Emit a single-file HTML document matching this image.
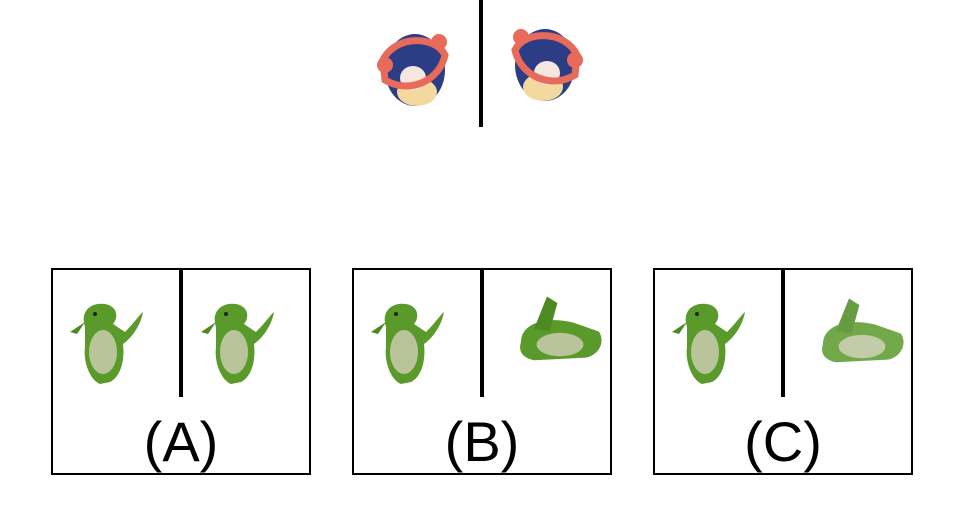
<!DOCTYPE html>
<html><head><meta charset="utf-8"><style>
html,body{margin:0;padding:0;background:#fff;}
svg{display:block;}
text{font-family:"Liberation Sans",sans-serif;}
</style></head><body>
<svg width="963" height="526" viewBox="0 0 963 526">
<defs>
<g id="dino">
 <path d="M-20,-15 C-25,-30 -15,-40 0,-38 C12,-36 14,-25 8,-18 L20,-10 C30,-20 35,-28 38,-30 C36,-18 28,-5 18,2 C20,20 15,35 5,40 L-5,42 C-15,38 -22,20 -20,5 Z" fill="#5a9a2a"/>
 <ellipse cx="-2" cy="10" rx="14" ry="22" fill="#b9c49a"/>
 <path d="M-20,-20 L-35,-10 L-28,-8 Z" fill="#4d8a22"/>
 <circle cx="-10" cy="-28" r="2" fill="#222"/>
</g>
<g id="dinoflat">
 <path d="M-30,0 C-30,-15 -10,-20 10,-15 L30,-8 C35,0 30,10 20,12 L-20,14 C-30,12 -32,6 -30,0 Z" fill="#5a9a2a"/>
 <path d="M-20,-10 L-10,-35 L-2,-30 L-8,-8 Z" fill="#4d8a22"/>
 <ellipse cx="0" cy="2" rx="18" ry="9" fill="#b9c49a"/>
</g>
<g id="penguin">
 <ellipse cx="0" cy="0" rx="30" ry="36" fill="#2c3d85"/>
 <ellipse cx="2" cy="22" rx="20" ry="14" fill="#f3d9a0"/>
 <ellipse cx="-2" cy="8" rx="13" ry="12" fill="#f5e6e0"/>
 <path d="M-32,-10 C-20,-35 20,-35 30,-15 C25,10 -5,25 -30,10 Z" fill="none" stroke="#e86a5a" stroke-width="7"/>
 <circle cx="-30" cy="-5" r="8" fill="#e86a5a"/>
 <circle cx="24" cy="-28" r="8" fill="#e86a5a"/>
</g>
</defs>
<line x1="481" y1="0" x2="481" y2="127" stroke="#000" stroke-width="4"/>
<use href="#penguin" x="415" y="70"/>
<use href="#penguin" x="545" y="65" transform="translate(1090,0) scale(-1,1)"/>

<g>
 <rect x="52" y="269" width="258" height="205" fill="none" stroke="#000" stroke-width="2"/>
 <line x1="181" y1="269" x2="181" y2="397" stroke="#000" stroke-width="4"/>
 <use href="#dino" x="105" y="342"/>
 <use href="#dino" x="236" y="342"/>
 <text x="181" y="461" font-size="56" text-anchor="middle">(A)</text>
</g>
<g>
 <rect x="353" y="269" width="258" height="205" fill="none" stroke="#000" stroke-width="2"/>
 <line x1="482" y1="269" x2="482" y2="397" stroke="#000" stroke-width="4"/>
 <use href="#dino" x="406" y="342"/>
 <use href="#dinoflat" transform="translate(560,342) scale(1.3)"/>
 <text x="482" y="461" font-size="56" text-anchor="middle">(B)</text>
</g>
<g>
 <rect x="654" y="269" width="258" height="205" fill="none" stroke="#000" stroke-width="2"/>
 <line x1="783" y1="269" x2="783" y2="397" stroke="#000" stroke-width="4"/>
 <use href="#dino" x="707" y="342"/>
 <use href="#dinoflat" transform="translate(862,344) scale(1.3)" opacity="0.85"/>
 <text x="783" y="461" font-size="56" text-anchor="middle">(C)</text>
</g>
</svg>
</body></html>
